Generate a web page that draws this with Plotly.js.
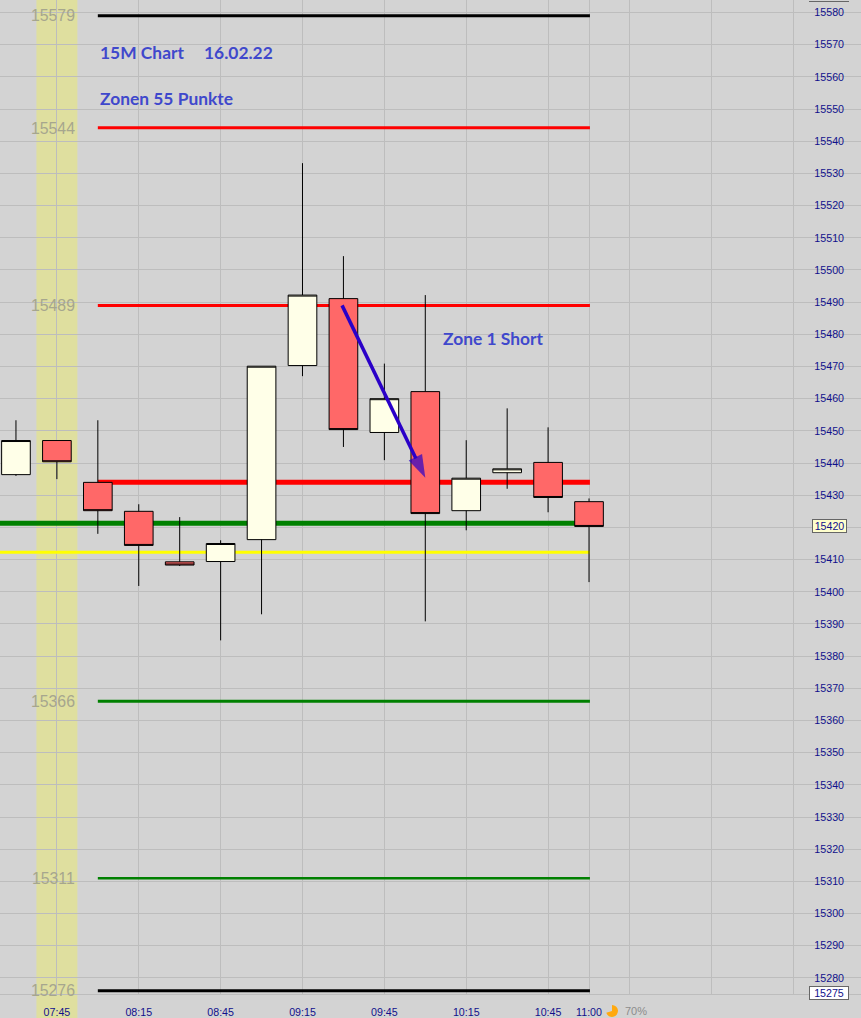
<!DOCTYPE html>
<html>
<head>
<meta charset="utf-8">
<script src="https://cdn.plot.ly/plotly-3.0.1.min.js"></script>
<style>html,body{margin:0;padding:0;background:#d3d3d3}#c{width:861px;height:1018px}</style>
</head>
<body>
<div id="c"></div>
<script>
var day = '2022-02-16 ';
var times = ['07:30','07:45','08:00','08:15','08:30','08:45','09:00','09:15','09:30','09:45','10:00','10:15','10:30','10:45','11:00'];
var opens = [15436.4,15447,15434,15425,15409.3,15409.4,15416.2,15470.3,15491.1,15449.5,15462.2,15425.2,15437,15440.2,15428];
var highs = [15453.3,15447,15453.3,15427.2,15423.2,15416,15470.1,15533.2,15504.3,15470.9,15492.2,15447.1,15457,15451.1,15429];
var lows = [15436,15435,15418,15401.8,15408,15384.9,15393,15467,15445,15440.9,15390.8,15419.1,15432,15424.7,15403];
var closes = [15447,15440.4,15425.2,15414.4,15408.3,15415,15470.1,15492.2,15450.4,15460,15424.3,15435.3,15438.2,15429.3,15420.3];

var levelValues = [15579,15544.2,15489,15434,15421.3,15412.3,15366,15311,15276];
var levelColors = ['#000000','#ff0000','#ff0000','#ff0000','#008000','#ffff00','#008000','#008000','#000000'];
var levelWidths = [3,3,3,5,5,3,3,2.5,3];
var levelStarts = ['08:00','08:00','08:00','08:00','07:00','07:00','08:00','08:00','08:00'];
var levelEnd = '11:00:20';
var levelLabels = ['15579','15544','15489','15366','15311','15276'];

var arrowTimes = ['09:29:30','10:00'];
var arrowValues = [15489,15435.4];

var yTicks = [];
for (var v = 15280; v <= 15580; v += 10) yTicks.push(v);
var xTicks = ['07:45','08:15','08:45','09:15','09:45','10:15','10:45','11:00','11:15','11:45','12:15'];
var xTickLabels = ['07:45','08:15','08:45','09:15','09:45','10:15','10:45','11:00','','',''];
var axisLow = 15275;
var sessionBand = ['07:37:30','07:52:30'];
var sessionPie = [70,30];

var xRange = [day+'07:24:09', day+'12:39:40'];
var yRange = [axisLow, 15583.9];
var H = 1018, W = 861;
var labelFont = {family:'Liberation Sans, Arial',size:10.67,color:'#10108c'};
var traces = [];
levelValues.forEach(function(v,i){
  traces.push({type:'scatter',mode:'lines',x:[day+levelStarts[i],day+levelEnd],y:[v,v],
    line:{color:levelColors[i],width:levelWidths[i]},showlegend:false,hoverinfo:'skip'});
});
traces.push({type:'candlestick',xaxis:'x2',yaxis:'y2',
  x:times.map(function(t){return day+t;}),open:opens,high:highs,low:lows,close:closes,
  increasing:{line:{color:'#000000',width:1},fillcolor:'#ffffe8'},
  decreasing:{line:{color:'#000000',width:1},fillcolor:'#ff6868'},
  showlegend:false});
traces.push({type:'scatter',mode:'lines+markers',xaxis:'x2',yaxis:'y2',
  x:arrowTimes.map(function(t){return day+t;}),y:arrowValues,
  line:{color:'#2a00c8',width:3.5},
  marker:{symbol:['circle','arrow'],size:[1,24],color:'#2a00c8',angleref:'previous',line:{width:0}},
  showlegend:false,hoverinfo:'skip'});
traces.push({type:'pie',values:sessionPie,sort:false,direction:'clockwise',rotation:0,
  domain:{x:[606/W,618/W],y:[1/H,13/H]},textinfo:'none',showlegend:false,hoverinfo:'skip',
  marker:{colors:['#ffa90f','rgba(0,0,0,0)'],line:{width:0}}});

var blue = '#3f48cc';
function note(t,x,y){
  return {text:t,xref:'paper',yref:'y',x:x/W,y:y,xanchor:'left',yanchor:'middle',showarrow:false,
    font:{family:'Lato',size:17.4,color:blue,weight:700}};
}
var annotations = [
  note('15M Chart',98,15567.7),note('16.02.22',202,15567.7),
  note('Zonen 55 Punkte',98,15553.4),note('Zone 1 Short',441,15478.8)
];
levelLabels.forEach(function(t){
  annotations.push({text:t,xref:'paper',yref:'y',x:76.5/W,y:+t,xanchor:'right',yanchor:'middle',showarrow:false,
    font:{family:'Liberation Sans, Arial',size:15.8,color:'#a6a68e'}});
});
annotations.push({text:'15420',xref:'paper',yref:'y',x:829.5/W,y:15420,yshift:1.5,width:33,height:12,align:'center',xanchor:'center',yanchor:'middle',showarrow:false,
  bgcolor:'#ffffcc',bordercolor:'#666666',borderwidth:1,borderpad:0,font:labelFont});
annotations.push({text:'15275',xref:'paper',yref:'y',x:829/W,y:15275,yshift:1.5,width:38,height:12,align:'center',xanchor:'center',yanchor:'middle',showarrow:false,
  bgcolor:'#ffffff',bordercolor:'#666666',borderwidth:1,borderpad:0,font:labelFont});
annotations.push({text:'70%',xref:'paper',yref:'paper',x:623/W,y:7/H,xanchor:'left',yanchor:'middle',showarrow:false,
  font:{family:'Liberation Sans, Arial',size:11,color:'#8c8c8c'}});

var shapes = [
  {type:'rect',layer:'below',xref:'x',yref:'paper',x0:day+sessionBand[0],x1:day+sessionBand[1],y0:0,y1:1,fillcolor:'#dfdf9f',line:{width:0}},
  {type:'rect',layer:'between',xref:'paper',yref:'paper',x0:808/W,x1:851/W,y0:0,y1:1,fillcolor:'#d3d3d3',line:{width:0}},
  {type:'line',layer:'above',xref:'paper',yref:'paper',x0:809/W,x1:849/W,y0:1-1.5/H,y1:1-1.5/H,line:{color:'#666666',width:1}}
];

var layout = {
  width:W,height:H,margin:{l:0,r:0,t:0,b:0},paper_bgcolor:'#d3d3d3',plot_bgcolor:'#d3d3d3',
  showlegend:false,
  xaxis:{type:'date',range:xRange,tickmode:'array',tickvals:xTicks.map(function(t){return day+t;}),ticktext:xTickLabels,
    showgrid:true,gridcolor:'#bdbdbd',gridwidth:1,showline:true,linecolor:'#bdbdbd',linewidth:1,ticks:'',ticklabelstandoff:8,
    zeroline:false,tickfont:labelFont,anchor:'y'},
  yaxis:{domain:[24/H,1],range:yRange,side:'right',tickmode:'array',tickvals:yTicks,
    ticktext:yTicks.map(function(v){return v===15420?'':String(v);}),
    ticklabelposition:'inside',ticklabelstandoff:14,showgrid:true,gridcolor:'#bdbdbd',gridwidth:1,zeroline:false,ticks:'',
    tickfont:labelFont,anchor:'x'},
  xaxis2:{type:'date',range:xRange,overlaying:'x',visible:false,rangeslider:{visible:false},anchor:'y2'},
  yaxis2:{range:yRange,overlaying:'y',visible:false,side:'right',anchor:'x2'},
  annotations:annotations,shapes:shapes,boxgap:0.3,boxgroupgap:0
};
Plotly.newPlot('c',traces,layout,{displayModeBar:false,staticPlot:true});
</script>
</body>
</html>
